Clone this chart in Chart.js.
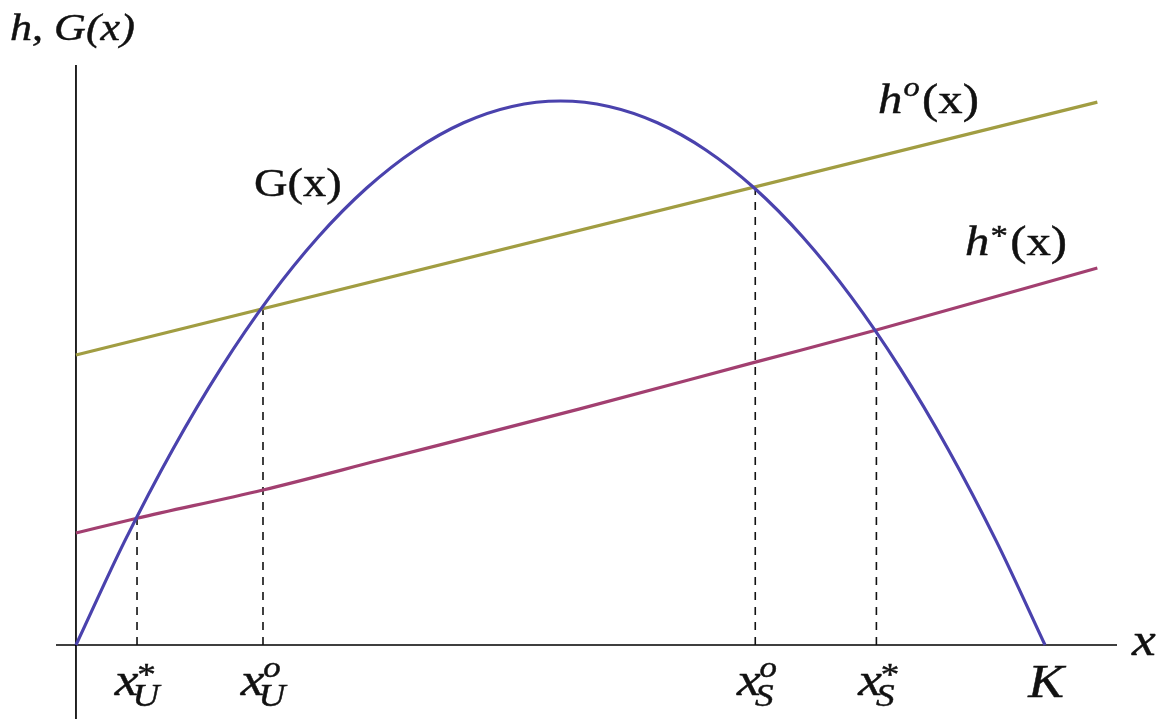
<!DOCTYPE html>
<html lang="en">
  <head>
    <meta charset="UTF-8" />
    <title>Harvest and growth G(x)</title>
    <script src="https://cdn.jsdelivr.net/npm/chart.js"></script>
    <style>
      html, body { margin: 0; padding: 0; background: #fff; }
      canvas { display: block; }
    </style>
  </head>
  <body>
    <canvas id="harvest" width="1158" height="719"></canvas>

    <script>
      // stock x (K = 1) and growth G(x)
      const stockX = [0, 0.05, 0.1, 0.15, 0.2, 0.25, 0.3, 0.35, 0.4, 0.45, 0.5,
        0.55, 0.6, 0.65, 0.7, 0.75, 0.8, 0.85, 0.9, 0.95, 1.0];
      const growthG = [0, 0.19, 0.36, 0.51, 0.64, 0.75, 0.84, 0.91, 0.96, 0.99, 1.0,
        0.99, 0.96, 0.91, 0.84, 0.75, 0.64, 0.51, 0.36, 0.19, 0];

      // h^o(x): straight line
      const hoX = [0, 1.054];
      const hoY = [0.533, 0.998];

      // h*(x): slightly bending upward
      const hsX = [0, 0.063, 0.193, 0.314, 0.52, 0.701, 0.826, 1.054];
      const hsY = [0.206, 0.233, 0.285, 0.34, 0.434, 0.52, 0.579, 0.693];

      // intersections (dashed drop lines) and their tick labels
      const crossX = [0.063, 0.193, 0.701, 0.826];
      const crossY = [0.233, 0.62, 0.84, 0.577];
      const crossSub = ["U", "U", "S", "S"];
      const crossSup = ["*", "o", "o", "*"];

      const toPts = (xs, ys) => xs.map((x, i) => ({ x, y: ys[i] }));

      const serif = '"Liberation Serif", "DejaVu Serif", serif';
      const SX = 1.16; // the original lettering is a bit wider than Liberation Serif

      const datasets = [
        {
          label: "G(x)",
          data: toPts(stockX, growthG),
          borderColor: "#4a42ad",
          borderWidth: 3.2,
          cubicInterpolationMode: "monotone",
        },
        {
          label: "h°(x)",
          data: toPts(hoX, hoY),
          borderColor: "#a19d42",
          borderWidth: 3.2,
        },
        {
          label: "h*(x)",
          data: toPts(hsX, hsY),
          borderColor: "#a23f70",
          borderWidth: 3.2,
          cubicInterpolationMode: "monotone",
        },
      ];

      crossX.forEach((cx, i) => {
        datasets.push({
          label: "drop" + i,
          data: [{ x: cx, y: 0 }, { x: cx, y: crossY[i] }],
          borderColor: "#111",
          borderWidth: 1.6,
          borderDash: [8, 7],
        });
      });

      function txt(ctx, s, x, y, font) {
        ctx.font = font;
        ctx.fillText(s, x, y);
        ctx.strokeText(s, x, y);
        return ctx.measureText(s).width;
      }

      // x with a subscript and a superscript, centred on cx
      function drawXSym(ctx, cx, base, sub, sup) {
        ctx.font = "italic 46px " + serif;
        const w = ctx.measureText("x").width;
        ctx.font = "italic 32px " + serif;
        const ws = ctx.measureText(sub).width;
        const total = (w - 5 + ws) * SX;
        ctx.save();
        ctx.translate(cx - total / 2, base);
        ctx.scale(SX, 1);
        txt(ctx, "x", 0, 0, "italic 46px " + serif);
        txt(ctx, sub, w - 5, 11, "italic 32px " + serif);
        if (sup === "*") txt(ctx, sup, w - 1, -10, "32px " + serif);
        else txt(ctx, sup, w - 1, -18, "italic 30px " + serif);
        ctx.restore();
      }

      // h^sup(x) starting at left
      function drawH(ctx, left, base, sup) {
        ctx.save();
        ctx.translate(left, base);
        ctx.scale(SX, 1);
        let x = txt(ctx, "h", 0, 0, "italic 42px " + serif) + 1;
        if (sup === "*") x += txt(ctx, sup, x, -10, "30px " + serif);
        else x += txt(ctx, sup, x, -17, "italic 28px " + serif);
        txt(ctx, "(x)", x + 2, 0, "42px " + serif);
        ctx.restore();
      }

      function drawPlain(ctx, s, left, base, font) {
        ctx.save();
        ctx.translate(left, base);
        ctx.scale(SX, 1);
        txt(ctx, s, 0, 0, font);
        ctx.restore();
      }

      const axesPlugin = {
        id: "axesPlugin",
        beforeDatasetsDraw(chart) {
          const { ctx, scales } = chart;
          const x0 = scales.x.getPixelForValue(0);
          const y0 = scales.y.getPixelForValue(0);
          ctx.save();
          ctx.strokeStyle = "#000";
          ctx.lineWidth = 1.7;
          ctx.beginPath();
          ctx.moveTo(scales.x.getPixelForValue(-0.0206), y0);
          ctx.lineTo(scales.x.getPixelForValue(1.0743), y0);
          ctx.moveTo(x0, scales.y.getPixelForValue(1.066));
          ctx.lineTo(x0, scales.y.getPixelForValue(-0.136));
          ctx.stroke();
          ctx.restore();
        },
        afterDraw(chart) {
          const { ctx, scales } = chart;
          const y0 = scales.y.getPixelForValue(0);
          ctx.save();
          ctx.fillStyle = "#111";
          ctx.strokeStyle = "#111";
          ctx.lineWidth = 0.45;
          ctx.textBaseline = "alphabetic";
          ctx.textAlign = "left";

          // axis titles
          drawPlain(ctx, "h, G(x)", 10, 40, "italic 38px " + serif);
          drawPlain(ctx, "x", 1132, y0 + 10, "italic 46px " + serif);

          // tick labels under the axis
          crossX.forEach((cx, i) => {
            drawXSym(ctx, scales.x.getPixelForValue(cx), y0 + 50, crossSub[i], crossSup[i]);
          });
          ctx.font = "italic 46px " + serif;
          const kw = ctx.measureText("K").width * SX;
          drawPlain(ctx, "K", scales.x.getPixelForValue(1) - kw / 2 + 1, y0 + 52, "italic 46px " + serif);

          // curve labels
          drawPlain(ctx, "G(x)", 254, 196, "40px " + serif);
          drawH(ctx, 878, 113, "o");
          drawH(ctx, 965, 255, "*");
          ctx.restore();
        },
      };

      new Chart(document.getElementById("harvest").getContext("2d"), {
        type: "scatter",
        data: { datasets },
        options: {
          responsive: false,
          animation: false,
          showLine: true,
          elements: { point: { radius: 0, hoverRadius: 0 } },
          layout: { padding: 0 },
          plugins: { legend: { display: false }, tooltip: { enabled: false } },
          scales: {
            x: { type: "linear", min: -0.0784, max: 1.1166, display: false },
            y: { type: "linear", min: -0.136, max: 1.1857, display: false },
          },
        },
        plugins: [axesPlugin],
      });
    </script>
  </body>
</html>
